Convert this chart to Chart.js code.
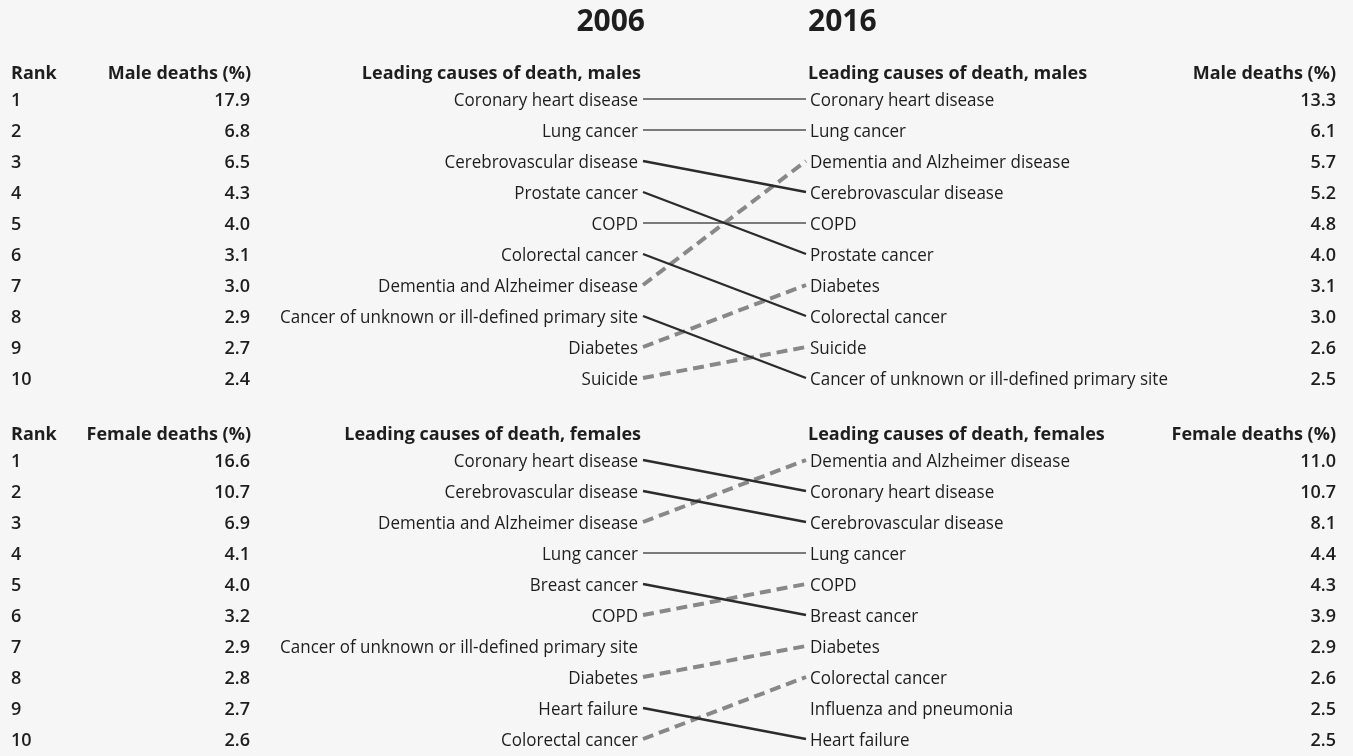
<!DOCTYPE html>
<html>
<head>
<meta charset="utf-8">
<script src="https://cdn.jsdelivr.net/npm/chart.js@4"></script>
<style>
  body { margin: 0; background: #f6f6f6; }
  #wrap { width: 1353px; height: 756px; position: relative; }
</style>
</head>
<body>
<div id="wrap"><canvas id="rank-chart"></canvas></div>
<script>
const years = ["2006", "2016"];

const males2006 = ["Coronary heart disease", "Lung cancer", "Cerebrovascular disease", "Prostate cancer", "COPD",
    "Colorectal cancer", "Dementia and Alzheimer disease", "Cancer of unknown or ill-defined primary site", "Diabetes", "Suicide"];
const malePct2006 = [17.9, 6.8, 6.5, 4.3, 4.0, 3.1, 3.0, 2.9, 2.7, 2.4];

const males2016 = ["Coronary heart disease", "Lung cancer", "Dementia and Alzheimer disease", "Cerebrovascular disease", "COPD",
    "Prostate cancer", "Diabetes", "Colorectal cancer", "Suicide", "Cancer of unknown or ill-defined primary site"];
const malePct2016 = [13.3, 6.1, 5.7, 5.2, 4.8, 4.0, 3.1, 3.0, 2.6, 2.5];

const females2006 = ["Coronary heart disease", "Cerebrovascular disease", "Dementia and Alzheimer disease", "Lung cancer", "Breast cancer",
    "COPD", "Cancer of unknown or ill-defined primary site", "Diabetes", "Heart failure", "Colorectal cancer"];
const femalePct2006 = [16.6, 10.7, 6.9, 4.1, 4.0, 3.2, 2.9, 2.8, 2.7, 2.6];

const females2016 = ["Dementia and Alzheimer disease", "Coronary heart disease", "Cerebrovascular disease", "Lung cancer", "COPD",
    "Breast cancer", "Diabetes", "Colorectal cancer", "Influenza and pneumonia", "Heart failure"];
const femalePct2016 = [11.0, 10.7, 8.1, 4.4, 4.3, 3.9, 2.9, 2.6, 2.5, 2.5];

// layout (pixels)
const W = 1353, H = 756;
const x2006 = 643, x2016 = 806;      // line ends
const row1 = 99, rowGap = 31;        // y of male rank 1, row spacing
const femaleOffset = 11.645;         // female rank 1 sits this many rows below male rank 1
const textDrop = 1.5;                // Open Sans sits a little high with baseline "middle"

const labelFont = '19px "Open Sans"';
const labelSqueeze = 0.895;          // labels in the original are set in a condensed face
const numFont = '600 18px "Open Sans"';
const headFont = 'bold 18px "Open Sans"';
const ink = "#1e1e1e";

function buildLines(list06, list16, offset) {
    const sets = [];
    list06.forEach((name, i) => {
        const j = list16.indexOf(name);
        if (j < 0) return;
        const r1 = i + 1, r2 = j + 1;
        let color = "#7a7a7a", width = 2.2, dash = [];
        if (r2 > r1) { color = "#2b2b2b"; width = 2.4; }
        if (r2 < r1) { color = "#888888"; width = 4; dash = [11, 6]; }
        sets.push({
            label: name,
            data: [{ x: 0, y: r1 + offset }, { x: 1, y: r2 + offset }],
            borderColor: color,
            borderWidth: width,
            borderDash: dash,
            pointRadius: 0,
            tension: 0,
        });
    });
    return sets;
}

const datasets = buildLines(males2006, males2016, 0).concat(buildLines(females2006, females2016, femaleOffset));

function narrowText(ctx, text, x, y, align) {
    ctx.save();
    ctx.translate(x, y);
    ctx.scale(labelSqueeze, 1);
    ctx.textAlign = align;
    ctx.fillText(text, 0, 0);
    ctx.restore();
}

const textPlugin = {
    id: "tableText",
    afterDatasetsDraw(chart) {
        const ctx = chart.ctx;
        const xs = chart.scales.x, ys = chart.scales.y;
        const left06 = xs.getPixelForValue(0) - 5;
        const right16 = xs.getPixelForValue(1) + 4;
        ctx.save();
        ctx.fillStyle = ink;
        ctx.textBaseline = "middle";

        ctx.font = 'bold 30px "Open Sans"';
        ctx.textAlign = "right";
        ctx.fillText(years[0], left06 + 7, 22);
        ctx.textAlign = "left";
        ctx.fillText(years[1], right16 - 2, 22);

        function block(offset, who, list06, pct06, list16, pct16) {
            const yh = ys.getPixelForValue(offset + 1) - 27 + textDrop;
            const head = who === "male" ? "Male deaths (%)" : "Female deaths (%)";
            ctx.font = headFont;
            ctx.textAlign = "left";
            ctx.fillText("Rank", 11, yh);
            ctx.fillText("Leading causes of death, " + who + "s", right16 - 2, yh);
            ctx.textAlign = "right";
            ctx.fillText(head, 251, yh);
            ctx.fillText("Leading causes of death, " + who + "s", left06 + 3, yh);
            ctx.fillText(head, 1336, yh);

            for (let i = 0; i < 10; i++) {
                const y = ys.getPixelForValue(offset + i + 1) + textDrop;
                ctx.font = numFont;
                ctx.textAlign = "left";
                ctx.fillText(String(i + 1), 11, y);
                ctx.textAlign = "right";
                ctx.fillText(pct06[i].toFixed(1), 250, y);
                ctx.fillText(pct16[i].toFixed(1), 1336, y);
                ctx.font = labelFont;
                narrowText(ctx, list06[i], left06, y, "right");
                narrowText(ctx, list16[i], right16, y, "left");
            }
        }
        block(0, "male", males2006, malePct2006, males2016, malePct2016);
        block(femaleOffset, "female", females2006, femalePct2006, females2016, femalePct2016);
        ctx.restore();
    },
};

const ctx = document.getElementById("rank-chart");
const unitX = x2016 - x2006;

new Chart(ctx, {
    type: "line",
    data: { datasets: datasets },
    options: {
        responsive: true,
        maintainAspectRatio: false,
        animation: false,
        layout: { padding: 0 },
        plugins: { legend: { display: false }, tooltip: { enabled: false } },
        scales: {
            x: {
                type: "linear",
                display: false,
                min: -x2006 / unitX,
                max: (W - x2006) / unitX,
            },
            y: {
                type: "linear",
                display: false,
                reverse: true,
                min: 1 - row1 / rowGap,
                max: 1 + (H - row1) / rowGap,
            },
        },
    },
    plugins: [textPlugin],
});
</script>
</body>
</html>
